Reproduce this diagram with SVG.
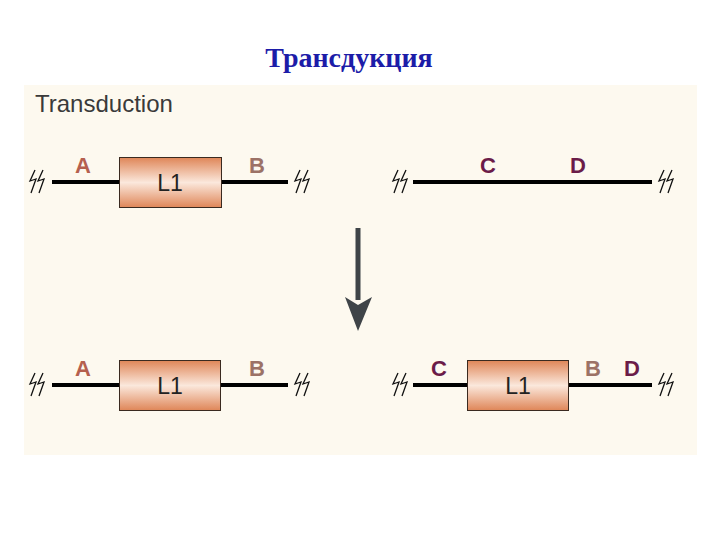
<svg xmlns="http://www.w3.org/2000/svg" width="720" height="540" viewBox="0 0 720 540">
<style>
.title{font-family:"Liberation Serif","Times New Roman",serif;font-weight:bold;font-size:28px;fill:#1c1ca8}
.sub{font-family:"Liberation Sans",Arial,sans-serif;font-size:24px;fill:#3a3a3a}
.lab{font-family:"Liberation Sans",Arial,sans-serif;font-weight:bold;font-size:22px;text-anchor:middle}
.a{fill:#b5604e}
.b{fill:#9c7266}
.cd{fill:#6b1c48}
.l1{font-family:"Liberation Sans",Arial,sans-serif;font-size:23px;fill:#222;text-anchor:middle}
.dna{stroke:#000;stroke-width:4;fill:none}
.box{fill:url(#g);stroke:#3a2a20;stroke-width:1}
.brk{stroke:#111;stroke-width:1.3;fill:none}
</style>
<defs>
<linearGradient id="g" x1="0" y1="0" x2="0" y2="1">
<stop offset="0" stop-color="#df8658"/>
<stop offset="0.5" stop-color="#fbe8dc"/>
<stop offset="1" stop-color="#df8658"/>
</linearGradient>
<g id="brk">
<path class="brk" d="M-3,-12 L-8,-1 L-2,-3 L-7,11"/>
<path class="brk" d="M5,-12 L0,-1 L6,-3 L1,11"/>
</g>
</defs>
<rect width="720" height="540" fill="#fff"/>
<rect x="24" y="85" width="673" height="370" fill="#fdf9ef"/>
<text class="title" x="349" y="67" text-anchor="middle">Трансдукция</text>
<text class="sub" x="35" y="112">Transduction</text>
<g id="connectors">
<line class="dna" x1="52" y1="182" x2="120" y2="182"/>
<line class="dna" x1="222" y1="182" x2="288" y2="182"/>
<line class="dna" x1="413" y1="182" x2="652" y2="182"/>
<line class="dna" x1="52" y1="385" x2="120" y2="385"/>
<line class="dna" x1="221" y1="385" x2="288" y2="385"/>
<line class="dna" x1="413" y1="385" x2="467" y2="385"/>
<line class="dna" x1="569" y1="385" x2="652" y2="385"/>
<rect x="355.5" y="228" width="5" height="72" fill="#3f4448"/>
<polygon points="345,297 358,305 372,297 358,331" fill="#3f4448"/>
</g>
<g id="breaks">
<use href="#brk" x="38" y="182"/>
<use href="#brk" x="303" y="182"/>
<use href="#brk" x="401" y="182"/>
<use href="#brk" x="667" y="182"/>
<use href="#brk" x="38" y="385"/>
<use href="#brk" x="303" y="385"/>
<use href="#brk" x="401" y="385"/>
<use href="#brk" x="667" y="385"/>
</g>
<g id="row1-left">
<rect class="box" x="119.5" y="157.5" width="102" height="50"/>
<text class="l1" x="170" y="191">L1</text>
<text class="lab a" x="83" y="173">A</text>
<text class="lab b" x="257" y="173">B</text>
</g>
<g id="row1-right">
<text class="lab cd" x="488" y="173">C</text>
<text class="lab cd" x="578" y="173">D</text>
</g>
<g id="row2-left">
<rect class="box" x="119.5" y="360.5" width="101" height="50"/>
<text class="l1" x="170" y="394">L1</text>
<text class="lab a" x="83" y="376">A</text>
<text class="lab b" x="257" y="376">B</text>
</g>
<g id="row2-right">
<rect class="box" x="467.5" y="360.5" width="101" height="50"/>
<text class="l1" x="518" y="394">L1</text>
<text class="lab cd" x="439" y="376">C</text>
<text class="lab b" x="593" y="376">B</text>
<text class="lab cd" x="632" y="376">D</text>
</g>
</svg>
